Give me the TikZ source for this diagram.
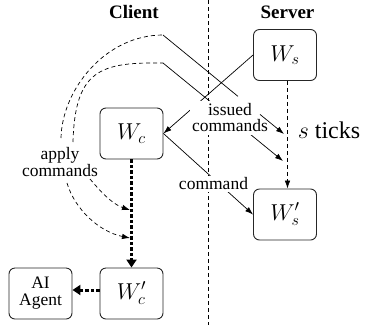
\RequirePackage{fix-cm}
\documentclass[tikz,border=0pt]{standalone}
\usepackage{fontspec}
\setmainfont{Liberation Serif}
\usetikzlibrary{arrows.meta}
\begin{document}
\begin{tikzpicture}[x=1pt,y=-1pt,
  box/.style={draw=black!85, line width=0.9pt, rounded corners=6pt, minimum width=63pt, minimum height=51pt, inner sep=0pt, align=center},
  mth/.style={font=\fontsize{23}{23}\selectfont},
  lbl/.style={font=\fontsize{17.5}{16}\selectfont, align=center, inner sep=2pt},
  ttl/.style={font=\fontsize{19}{20}\selectfont\bfseries},
  conn/.style={line width=0.7pt},
  tip/.style={-{Latex[length=8pt,width=5.5pt]}},
  dsh/.style={dash pattern=on 4pt off 3pt, line width=0.7pt},
  thk/.style={line width=3pt, dash pattern=on 3.5pt off 2pt, -{Triangle[length=8pt,width=10pt]}}
]
\useasboundingbox (0,0) rectangle (366,325);
% divider
\draw[dsh] (208,0) -- (208,325);
% titles
\node[ttl] (client) at (134,12) {Client};
\node[ttl] (server) at (287.5,12) {Server};
% boxes
\node[box,mth] (Ws) at (285,55) {$W_s$};
\node[box,mth] (Wc) at (131.5,133.5) {$W_c$};
\node[box,mth] (Wsp) at (285,214.5) {$W'_s$};
\node[box,mth] (Wcp) at (131.5,293.5) {$W'_c$};
\node[box,font=\fontsize{17.5}{17}\selectfont] (ai) at (40.5,293.5) {AI\\Agent};
% coordinates
\coordinate (tx) at (287.5,0);
\coordinate (i1s) at (163,35);
\coordinate (i1e) at (238,96.4);
\coordinate (i1a) at (260,114.4);
\coordinate (i1t) at (284,134);
\coordinate (i2s) at (163,63);
\coordinate (i2t) at (283,161);
\coordinate (o1) at (61,138);
\coordinate (o2) at (73,142);
\coordinate (l1) at (90,179);
\coordinate (l2) at (67,183);
\coordinate (a1) at (130,210);
\coordinate (a2) at (130,238);
% server tick arrow
\draw[dsh,tip] (Ws.south -| tx) -- (Wsp.north -| tx);
% server -> client
\draw[conn,tip] (Ws.west) -- (Wc.east);
% client -> server command
\draw[conn,tip] (Wc.east) -- (Wsp.west);
\node[lbl,fill=white] (cmd) at (213.5,184) {command};
% issued commands
\draw[dsh] (o1) .. controls (62,90) and (105,35) .. (i1s);
\draw[dsh] (o2) .. controls (75,70) and (100,62) .. (i2s);
\draw[conn] (i1s) -- (i1e);
\draw[conn,tip] (i2s) -- (i2t);
\node[lbl,fill=white,inner sep=2.5pt] (iss) at (230,118) {issued\\commands};
\draw[conn,tip] (i1a) -- (i1t);
\node[font=\fontsize{24}{24}\selectfont] (ticks) at (329,130) {$s$ ticks};
% apply commands
\node[lbl,font=\fontsize{17.5}{16.5}\selectfont] (apply) at (60,162) {apply\\commands};
\draw[dsh,tip] (l1) .. controls (105,197) and (115,205) .. (a1);
\draw[dsh,tip] (l2) .. controls (75,210) and (100,232) .. (a2);
% local progression
\draw[thk] (Wc.south) -- (Wcp.north);
\draw[thk] ([yshift=3.5pt]Wcp.west) -- ([yshift=3.5pt]ai.east);
\end{tikzpicture}
\end{document}
